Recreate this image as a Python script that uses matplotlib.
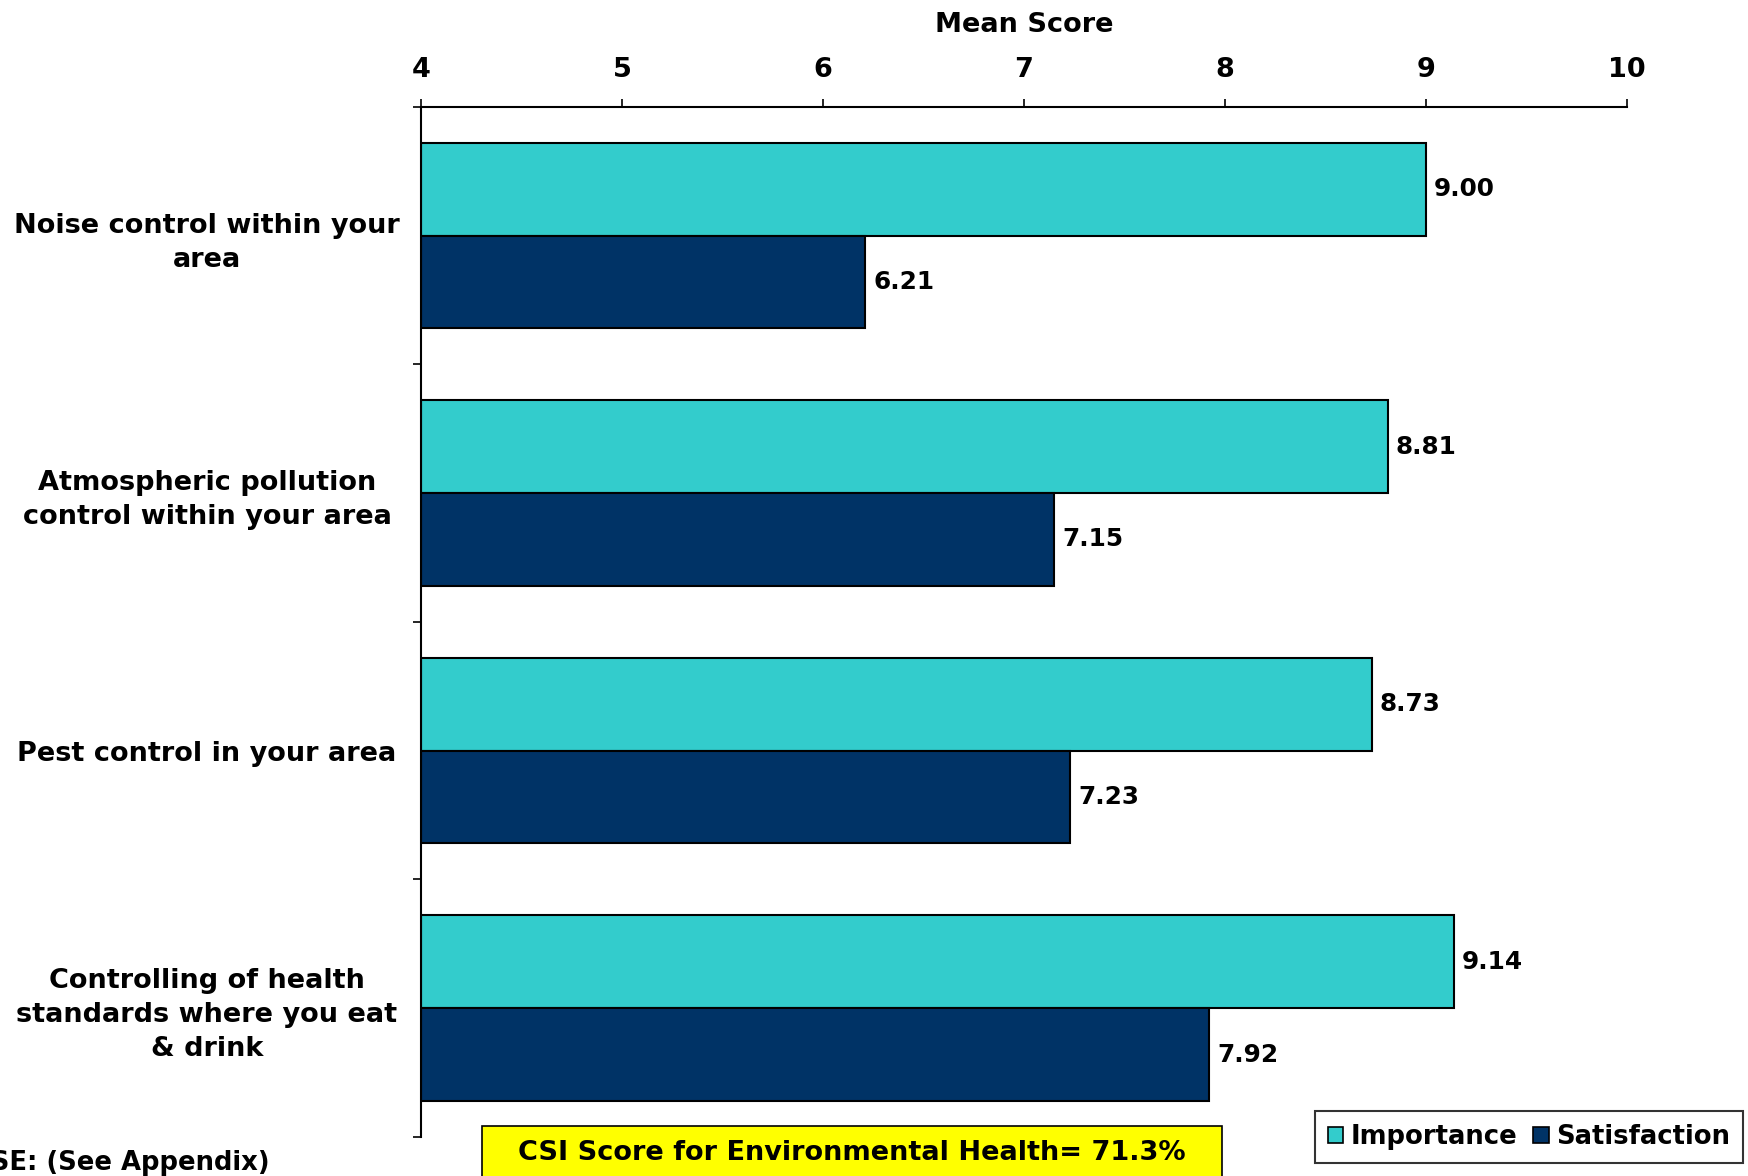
import numpy as np
import matplotlib.pyplot as plt
from matplotlib.patches import Patch, Rectangle

categories = [
    "Noise control within your\narea",
    "Atmospheric pollution\ncontrol within your area",
    "Pest control in your area",
    "Controlling of health\nstandards where you eat\n& drink",
]
importance = [9.00, 8.81, 8.73, 9.14]
satisfaction = [6.21, 7.15, 7.23, 7.92]
x_ticks = [4, 5, 6, 7, 8, 9, 10]

COL_IMP = "#33CCCC"
COL_SAT = "#003366"
FS = 19.5
FS_VAL = 17.8
FS_SMALL = 18.6

plt.rcParams['font.family'] = ['DejaVu Sans']
plt.rcParams['font.weight'] = 'bold'

fig = plt.figure(figsize=(17.48, 11.76), dpi=100)
ax = fig.add_axes([0.2408, 0.0332, 0.69, 0.876])

y = np.arange(len(categories))
h = 0.36
ax.barh(y - h / 2, np.array(importance) - 4, left=4, height=h,
        color=COL_IMP, edgecolor="black", linewidth=1.5, label="Importance")
ax.barh(y + h / 2, np.array(satisfaction) - 4, left=4, height=h,
        color=COL_SAT, edgecolor="black", linewidth=1.5, label="Satisfaction")

# value labels just past the end of each bar
for i in range(len(categories)):
    ax.text(importance[i] + 0.04, y[i] - h / 2, f"{importance[i]:.2f}",
            va="center", ha="left", fontsize=FS_VAL, fontweight="bold")
    ax.text(satisfaction[i] + 0.04, y[i] + h / 2, f"{satisfaction[i]:.2f}",
            va="center", ha="left", fontsize=FS_VAL, fontweight="bold")

ax.set_xlim(4, 10)
ax.set_ylim(len(categories) - 0.5, -0.5)

ax.xaxis.tick_top()
ax.xaxis.set_label_position("top")
ax.set_xticks(x_ticks)
ax.set_xticklabels([str(t) for t in x_ticks], fontsize=FS, fontweight="bold")
ax.tick_params(axis="x", direction="out", length=6, width=1.2, pad=11)
ax.set_xlabel("Mean Score", fontsize=FS, fontweight="bold", labelpad=18)

ax.set_yticks(y)
ax.set_yticklabels(categories, fontsize=FS, fontweight="bold",
                   linespacing=1.4, ha="center")
ax.tick_params(axis="y", which="major", length=0, pad=154)
ax.set_yticks(np.arange(len(categories) + 1) - 0.5, minor=True)
ax.tick_params(axis="y", which="minor", direction="out", length=6, width=1.2)

for side in ["right", "bottom"]:
    ax.spines[side].set_visible(False)
for side in ["left", "top"]:
    ax.spines[side].set_linewidth(1.5)

handles = [Patch(facecolor=COL_IMP, edgecolor="black", linewidth=1.2),
           Patch(facecolor=COL_SAT, edgecolor="black", linewidth=1.2)]
leg = fig.legend(handles, ["Importance", "Satisfaction"], ncol=2,
                 loc="center", bbox_to_anchor=(1529 / 1748, 1 - 1137 / 1176),
                 prop={"weight": "bold", "size": FS_SMALL},
                 frameon=True, fancybox=False, edgecolor="black",
                 handlelength=0.6, handleheight=0.6, handletextpad=0.3,
                 columnspacing=0.6, borderpad=0.5, borderaxespad=0)
leg.get_frame().set_linewidth(1.5)

# CSI summary box at the bottom
fig.add_artist(Rectangle((482 / 1748, -0.02), 740 / 1748, 0.02 + 1 - 1126 / 1176,
                         transform=fig.transFigure, facecolor="#FFFF00",
                         edgecolor="black", linewidth=1.2))
fig.text(852 / 1748, 1 - 1153 / 1176, "CSI Score for Environmental Health= 71.3%",
         ha="center", va="center", fontsize=FS, fontweight="bold")

fig.text(270 / 1748, 1 - 1163 / 1176, "BASE: (See Appendix)",
         ha="right", va="center", fontsize=FS_SMALL, fontweight="bold")

fig.savefig("out.png", dpi=100)
